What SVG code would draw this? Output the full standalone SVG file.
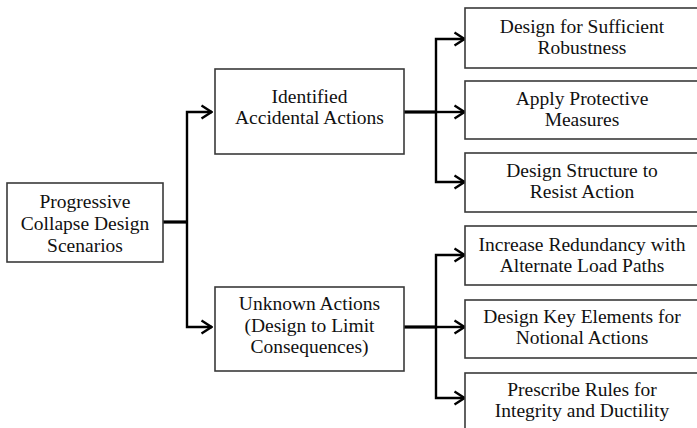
<svg xmlns="http://www.w3.org/2000/svg" width="697" height="428" viewBox="0 0 697 428">
<style>
.box{fill:#fff;stroke:#3a3a3a;stroke-width:1.6}
.t{font-family:"Liberation Serif","Times New Roman",serif;font-size:19.5px;fill:#111;text-anchor:middle}
.c{fill:none;stroke:#000;stroke-width:2.4;stroke-linejoin:miter}
.s{fill:none;stroke:#000;stroke-width:3.2}
</style>
<defs>
<marker id="arr" markerUnits="userSpaceOnUse" viewBox="0 0 13 16" refX="12" refY="8" markerWidth="13" markerHeight="16" orient="auto">
<path d="M1.5,1.5 L11.5,8 L1.5,14.5" fill="none" stroke="#000" stroke-width="2.3"/>
</marker>
</defs>
<rect width="697" height="428" fill="#fff"/>
<g id="connectors">
<line class="s" x1="163" y1="222" x2="187" y2="222"/>
<path class="c" d="M187,222 V112 H212" marker-end="url(#arr)"/>
<path class="c" d="M187,222 V327 H212" marker-end="url(#arr)"/>
<line class="s" x1="404" y1="112" x2="436" y2="112"/>
<path class="c" d="M436,112 V39 H465" marker-end="url(#arr)"/>
<path class="c" d="M436,112 V182 H465" marker-end="url(#arr)"/>
<line class="c" x1="436" y1="112" x2="465" y2="112" marker-end="url(#arr)"/>
<line class="s" x1="404" y1="327" x2="436" y2="327"/>
<path class="c" d="M436,327 V255 H465" marker-end="url(#arr)"/>
<path class="c" d="M436,327 V398 H465" marker-end="url(#arr)"/>
<line class="c" x1="436" y1="327" x2="465" y2="327" marker-end="url(#arr)"/>
</g>
<g id="root">
<rect class="box" x="7" y="183" width="156" height="79"/>
<text class="t" x="85" y="208">Progressive</text>
<text class="t" x="85" y="230">Collapse Design</text>
<text class="t" x="85" y="252">Scenarios</text>
</g>
<g id="identified">
<rect class="box" x="215" y="69" width="189" height="85"/>
<text class="t" x="309.5" y="103">Identified</text>
<text class="t" x="309.5" y="124">Accidental Actions</text>
</g>
<g id="unknown">
<rect class="box" x="215" y="287" width="189" height="84"/>
<text class="t" x="309.5" y="310">Unknown Actions</text>
<text class="t" x="309.5" y="332">(Design to Limit</text>
<text class="t" x="309.5" y="353">Consequences)</text>
</g>
<g id="robustness">
<rect class="box" x="465" y="8" width="236" height="60"/>
<text class="t" x="582" y="33">Design for Sufficient</text>
<text class="t" x="582" y="54">Robustness</text>
</g>
<g id="protective">
<rect class="box" x="465" y="81" width="236" height="58"/>
<text class="t" x="582" y="105">Apply Protective</text>
<text class="t" x="582" y="126">Measures</text>
</g>
<g id="resist">
<rect class="box" x="465" y="153" width="236" height="59"/>
<text class="t" x="582" y="177">Design Structure to</text>
<text class="t" x="582" y="198">Resist Action</text>
</g>
<g id="redundancy">
<rect class="box" x="465" y="226" width="236" height="59"/>
<text class="t" x="582" y="251">Increase Redundancy with</text>
<text class="t" x="582" y="272">Alternate Load Paths</text>
</g>
<g id="keyelements">
<rect class="box" x="465" y="300" width="236" height="58"/>
<text class="t" x="582" y="323">Design Key Elements for</text>
<text class="t" x="582" y="344">Notional Actions</text>
</g>
<g id="integrity">
<rect class="box" x="465" y="373" width="236" height="60"/>
<text class="t" x="582" y="396">Prescribe Rules for</text>
<text class="t" x="582" y="417">Integrity and Ductility</text>
</g>
</svg>
